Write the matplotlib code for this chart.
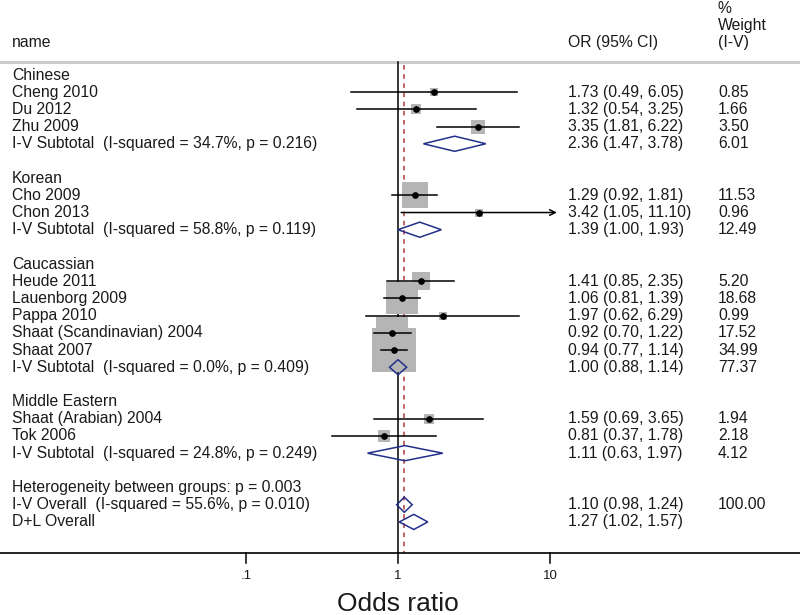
import numpy as np
import matplotlib
matplotlib.use("Agg")
import matplotlib.pyplot as plt
from matplotlib.patches import Polygon
import matplotlib.transforms as mtransforms

plt.rcParams['font.family'] = ['Liberation Sans', 'DejaVu Sans']

# ---- data -------------------------------------------------------------
groups = ["Chinese", "Korean", "Caucassian", "Middle Eastern"]
study_names = [
    ["Cheng 2010", "Du 2012", "Zhu 2009"],
    ["Cho 2009", "Chon 2013"],
    ["Heude 2011", "Lauenborg 2009", "Pappa 2010",
     "Shaat (Scandinavian) 2004", "Shaat 2007"],
    ["Shaat (Arabian) 2004", "Tok 2006"],
]
study_or = [[1.73, 1.32, 3.35], [1.29, 3.42],
            [1.41, 1.06, 1.97, 0.92, 0.94], [1.59, 0.81]]
study_lo = [[0.49, 0.54, 1.81], [0.92, 1.05],
            [0.85, 0.81, 0.62, 0.70, 0.77], [0.69, 0.37]]
study_hi = [[6.05, 3.25, 6.22], [1.81, 11.10],
            [2.35, 1.39, 6.29, 1.22, 1.14], [3.65, 1.78]]
study_w = [[0.85, 1.66, 3.50], [11.53, 0.96],
           [5.20, 18.68, 0.99, 17.52, 34.99], [1.94, 2.18]]

sub_or = [2.36, 1.39, 1.00, 1.11]
sub_lo = [1.47, 1.00, 0.88, 0.63]
sub_hi = [3.78, 1.93, 1.14, 1.97]
sub_w = [6.01, 12.49, 77.37, 4.12]
sub_i2 = ["34.7%", "58.8%", "0.0%", "24.8%"]
sub_p = ["0.216", "0.119", "0.409", "0.249"]

het_between_p = "0.003"
overall_labels = ["I-V Overall  (I-squared = 55.6%, p = 0.010)", "D+L Overall"]
overall_or = [1.10, 1.27]
overall_lo = [0.98, 1.02]
overall_hi = [1.24, 1.57]
overall_w = ["100.00", ""]

xticks = [0.1, 1, 10]
xtick_labels = [".1", "1", "10"]

# ---- layout -----------------------------------------------------------
W, H = 800, 615
x_one = 398.0       # pixel of OR = 1
decade = 152.0      # pixels per decade
row0, row_h = 75.0, 17.19

fig = plt.figure(figsize=(W / 100, H / 100), dpi=100)
ax = fig.add_axes([0, 0, 1, 1])
ax.set_xscale("log")
ax.set_xlim(10 ** (-x_one / decade), 10 ** ((W - x_one) / decade))
ax.set_ylim((H - row0) / row_h, -row0 / row_h)
ax.axis("off")

def px_row(p):
    return (p - row0) / row_h

trans = mtransforms.blended_transform_factory(ax.transAxes, ax.transData)
txt = dict(fontsize=11.3, color="#1a1a1a", va="center", transform=trans)
x_name, x_or, x_w = 12 / W, 568 / W, 718 / W

gray = "#b5b5b5"
navy = "#22308a"
dia_h = 0.44

def ci_text(o, l, h):
    return "%.2f (%.2f, %.2f)" % (o, l, h)

def diamond(o, l, h, r):
    poly = Polygon([(l, r), (o, r - dia_h), (h, r), (o, r + dia_h)],
                   closed=True, fill=False, edgecolor=navy, lw=1.1, zorder=5)
    ax.add_patch(poly)

top_y = px_row(62)
axis_y = px_row(553)

# header
ax.text(x_name, px_row(42), "name", **txt)
ax.text(x_or, px_row(42), "OR (95% CI)", **txt)
ax.text(x_w, px_row(8), "%", **txt)
ax.text(x_w, px_row(25), "Weight", **txt)
ax.text(x_w, px_row(42), "(I-V)", **txt)
ax.axhline(top_y, color="#c8c8c8", lw=2, zorder=1)

# reference lines
ax.plot([1, 1], [top_y, axis_y], color="black", lw=1.1, zorder=1)
ax.plot([overall_or[0]] * 2, [px_row(65), axis_y], color="#b03a3a",
        lw=1.1, ls=(0, (3, 3)), zorder=1)

# rows
r = 0
for g in range(len(groups)):
    ax.text(x_name, r, groups[g], **txt)
    r += 1
    for n, o, l, h, w in zip(study_names[g], study_or[g], study_lo[g],
                             study_hi[g], study_w[g]):
        ax.text(x_name, r, n, **txt)
        ax.text(x_or, r, ci_text(o, l, h), **txt)
        ax.text(x_w, r, "%.2f" % w, **txt)
        side = 7.6 * np.sqrt(w) * 0.72
        ax.scatter([o], [r], s=side ** 2, marker="s", color=gray,
                   lw=0, zorder=3)
        if h > 10:
            ax.annotate("", xy=(h, r), xytext=(l, r),
                        arrowprops=dict(arrowstyle="->", color="black",
                                        lw=1.1, shrinkA=0, shrinkB=0),
                        zorder=4)
        else:
            ax.plot([l, h], [r, r], color="black", lw=1.1, zorder=4)
        ax.plot([o], [r], "o", color="black", ms=3.8, zorder=6)
        r += 1
    ax.text(x_name, r, "I-V Subtotal  (I-squared = %s, p = %s)"
            % (sub_i2[g], sub_p[g]), **txt)
    ax.text(x_or, r, ci_text(sub_or[g], sub_lo[g], sub_hi[g]), **txt)
    ax.text(x_w, r, "%.2f" % sub_w[g], **txt)
    diamond(sub_or[g], sub_lo[g], sub_hi[g], r)
    r += 2

ax.text(x_name, r, "Heterogeneity between groups: p = %s" % het_between_p, **txt)
r += 1
for lab, o, l, h, w in zip(overall_labels, overall_or, overall_lo,
                           overall_hi, overall_w):
    ax.text(x_name, r, lab, **txt)
    ax.text(x_or, r, ci_text(o, l, h), **txt)
    ax.text(x_w, r, w, **txt)
    diamond(o, l, h, r)
    r += 1

# x axis
ax.axhline(axis_y, color="black", lw=1.2, zorder=1)
for t, lab in zip(xticks, xtick_labels):
    ax.plot([t, t], [axis_y, px_row(563)], color="black", lw=1.1)
    ax.text(t, px_row(576), lab, fontsize=9.5, color="#1a1a1a",
            ha="center", va="center")
ax.text(1, px_row(604), "Odds ratio", fontsize=19, color="#1a1a1a",
        ha="center", va="center")

fig.savefig("out.png", dpi=100)
